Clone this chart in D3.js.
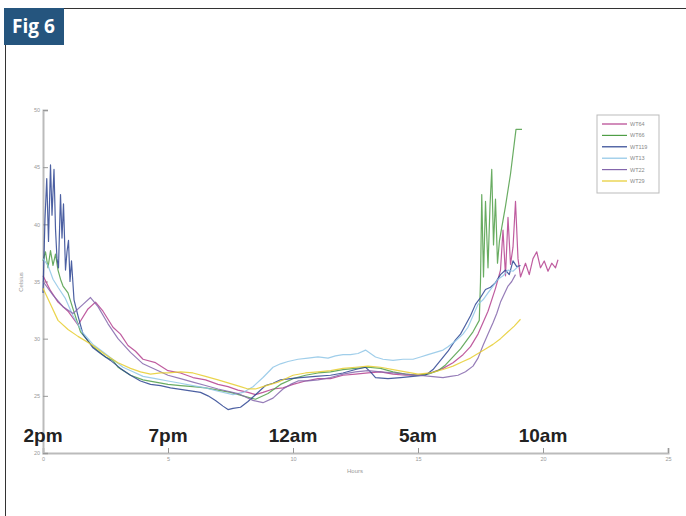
<!DOCTYPE html>
<html>
<head>
<meta charset="utf-8">
<script src="https://cdn.jsdelivr.net/npm/d3@7"></script>
<style>
  body { margin: 0; background: #fff; }
  svg { display: block; font-family: "Liberation Sans", Arial, sans-serif; }
</style>
</head>
<body>
<svg id="chart" width="686" height="516"></svg>
<script>
// series names / colours (legend order)
const names = ["WT64", "WT66", "WT119", "WT13", "WT22", "WT29"];
const colors = ["#b4408e", "#4f9e46", "#2d4492", "#8fc6e6", "#8466ac", "#e6cc2e"];

// time-of-day labels at each 5 hour tick
const xTicks = [0, 5, 10, 15, 20, 25];
const clockLabels = ["2pm", "7pm", "12am", "5am", "10am"];
const yTicks = [20, 25, 30, 35, 40, 45, 50];

// [hours, celsius]
const wt64 = [[0,35.5],[0.3,34.2],[0.6,33.2],[1.0,32.4],[1.4,31.2],[1.8,32.6],[2.1,33.2],[2.4,32.4],[2.8,31],[3.1,30.4],[3.4,29.4],[3.7,28.9],[4,28.2],[4.5,27.9],[5,27.2],[5.5,27.0],[6,26.6],[6.5,26.4],[7,26],[7.4,25.8],[7.8,25.5],[8.2,25.3],[8.5,25.1],[8.8,25.3],[9.2,25.6],[9.6,25.7],[10,26],[10.5,26.3],[11,26.5],[11.5,26.5],[12,26.8],[12.5,26.9],[13,27],[13.5,27.1],[14,26.9],[14.5,26.8],[15,26.8],[15.5,27],[16,27.4],[16.4,27.9],[16.8,28.6],[17.1,29.3],[17.4,30.4],[17.8,32.4],[18.1,34.4],[18.3,36],[18.4,39.5],[18.5,35.5],[18.6,40.6],[18.7,36.5],[18.8,38],[18.9,42],[19.0,37],[19.1,35.4],[19.3,36.6],[19.45,35.6],[19.6,37],[19.75,37.6],[19.9,36.2],[20.05,36.8],[20.2,35.9],[20.35,36.6],[20.5,36.2],[20.6,36.9]];
const wt66 = [[0,36.8],[0.1,37.6],[0.2,36.2],[0.3,37.7],[0.4,36.4],[0.5,37.4],[0.6,36],[0.7,35.2],[0.8,34.6],[1.0,34],[1.2,32.6],[1.5,30.6],[1.8,29.8],[2,29.3],[2.5,28.4],[2.8,28.1],[3,27.5],[3.5,26.8],[4,26.4],[4.5,26.2],[5,26],[5.5,25.9],[6,25.8],[6.5,25.7],[7,25.5],[7.5,25.3],[8,25],[8.5,24.7],[9,25.2],[9.5,26],[10,26.5],[10.5,26.8],[11,27],[11.5,27.1],[12,27.3],[12.5,27.4],[13,27.5],[13.5,27.4],[14,27.1],[14.5,26.9],[15,26.8],[15.4,26.9],[15.8,27.2],[16.1,27.7],[16.4,28.4],[16.7,29.1],[17,30],[17.2,30.6],[17.45,31.6],[17.5,35],[17.55,42.6],[17.62,35.4],[17.7,42],[17.8,36.2],[17.88,41.6],[17.95,44.8],[18.02,38.2],[18.1,42.2],[18.18,36.6],[18.26,38.6],[18.5,41.6],[18.7,44.4],[18.92,48.3],[19.16,48.3]];
const wt119 = [[0,34],[0.08,40.5],[0.15,44],[0.22,38.5],[0.3,45.2],[0.36,40.8],[0.44,44.8],[0.5,39.6],[0.56,37],[0.62,36.2],[0.7,42.6],[0.76,38.8],[0.82,41.8],[0.9,36],[0.96,37.6],[1.02,38.6],[1.08,35],[1.14,36.8],[1.24,33.4],[1.4,32],[1.6,30.4],[2,29.2],[2.3,28.7],[2.7,28.1],[3.1,27.4],[3.5,26.8],[3.9,26.3],[4.3,26],[4.7,25.9],[5.1,25.7],[5.7,25.5],[6.3,25.3],[6.6,25],[6.9,24.6],[7.2,24.1],[7.4,23.8],[7.6,23.9],[7.9,24],[8.2,24.5],[8.5,25.1],[8.9,25.9],[9.2,26.1],[9.5,26.4],[9.9,26.5],[10.3,26.6],[10.9,26.7],[11.5,26.8],[12,27],[12.5,27.3],[12.9,27.5],[13.1,27.1],[13.3,26.6],[13.8,26.5],[14.3,26.6],[14.8,26.7],[15.3,26.8],[15.6,27.3],[15.9,28.1],[16.2,28.9],[16.5,29.9],[16.7,30.4],[16.9,31.2],[17.1,32],[17.3,33],[17.5,33.6],[17.7,34.3],[17.9,34.5],[18.1,34.9],[18.3,35.6],[18.5,36],[18.65,35.6],[18.8,36.8],[18.95,36.3],[19.1,36.4]];
const wt13 = [[0,37],[0.2,36.4],[0.4,35.2],[0.6,34.5],[0.9,33.5],[1.2,32],[1.6,30.5],[2,29.5],[2.3,29],[2.6,28.5],[3.2,27.5],[3.6,27.1],[4,26.7],[4.5,26.5],[5,26.3],[5.5,26.1],[6,25.9],[6.5,25.7],[7,25.4],[7.6,25.1],[8,25.3],[8.4,25.8],[8.8,26.6],[9.2,27.5],[9.5,27.8],[9.8,28],[10.2,28.2],[10.6,28.3],[11,28.4],[11.4,28.3],[11.7,28.5],[12,28.6],[12.3,28.6],[12.6,28.7],[12.9,29],[13.1,28.7],[13.3,28.4],[13.6,28.2],[14,28.1],[14.4,28.2],[14.8,28.2],[15.1,28.4],[15.4,28.6],[15.7,28.8],[16,29],[16.2,29.3],[16.5,29.8],[16.8,30.4],[17,31],[17.2,32],[17.4,33],[17.6,33.4],[17.8,34],[18,34.6],[18.2,35.2],[18.4,35.5],[18.6,36],[18.8,35.9],[19,36.3]];
const wt22 = [[0,35],[0.4,33.8],[0.8,32.8],[1.2,32.2],[1.6,33],[1.9,33.6],[2.2,32.8],[2.6,31.3],[3.0,30],[3.5,28.8],[4,27.8],[4.5,27.3],[5,26.8],[5.5,26.5],[6,26.2],[6.5,25.9],[7,25.6],[7.4,25.4],[7.8,25.2],[8.1,24.9],[8.4,24.6],[8.8,24.4],[9.2,24.8],[9.6,25.6],[9.9,26],[10.2,26.3],[10.6,26.3],[11,26.4],[11.5,26.6],[12,26.9],[12.5,27.1],[13,27.2],[13.5,27.1],[14,27],[14.5,26.9],[15,26.8],[15.5,26.7],[16,26.6],[16.3,26.7],[16.6,26.8],[16.9,27.1],[17.2,27.6],[17.4,28.3],[17.6,29.4],[17.8,30.4],[18,31.4],[18.15,32.2],[18.3,33.2],[18.45,33.9],[18.6,34.6],[18.75,35],[18.9,35.6]];
const wt29 = [[0,34.4],[0.3,33],[0.6,31.6],[1.0,30.8],[1.4,30.2],[2,29.4],[2.5,28.6],[3,27.9],[3.5,27.4],[3.9,27.1],[4.3,26.9],[4.7,27],[5,27],[5.5,27.1],[6,27],[6.5,26.7],[7,26.4],[7.3,26.2],[7.6,26],[7.9,25.8],[8.2,25.6],[8.5,25.6],[8.8,25.8],[9.1,26],[9.4,26.2],[9.7,26.5],[10,26.8],[10.5,27],[11,27.1],[11.5,27.2],[12,27.4],[12.5,27.5],[13,27.6],[13.5,27.5],[14,27.3],[14.5,27.1],[15,26.9],[15.5,27],[16,27.3],[16.4,27.6],[16.8,28],[17.1,28.3],[17.4,28.7],[17.7,29.1],[18,29.5],[18.3,30],[18.6,30.6],[18.85,31.1],[19.1,31.7]];
const seriesData = [wt64, wt66, wt119, wt13, wt22, wt29];

const svg = d3.select("#chart");

// frame + badge
svg.append("line").attr("x1", 64).attr("x2", 686).attr("y1", 8.5).attr("y2", 8.5)
  .attr("stroke", "#333").attr("stroke-width", 1);
svg.append("line").attr("x1", 5.5).attr("x2", 5.5).attr("y1", 45).attr("y2", 516)
  .attr("stroke", "#333").attr("stroke-width", 1);
svg.append("rect").attr("x", 4).attr("y", 8).attr("width", 60).attr("height", 37)
  .attr("fill", "#25557e");
svg.append("text").attr("x", 12).attr("y", 33)
  .attr("fill", "#fff").attr("font-size", 19).attr("font-weight", "bold")
  .attr("font-family", "'Open Sans', sans-serif")
  .text("Fig 6");

// scales
const x = d3.scaleLinear().domain([0, 25]).range([43, 668]);
const y = d3.scaleLinear().domain([20, 50]).range([453, 110]);

// axes
const xAxis = svg.append("g").attr("transform", "translate(0,453)")
  .call(d3.axisBottom(x).tickValues(xTicks).tickSize(-5).tickPadding(4));
const yAxis = svg.append("g").attr("transform", "translate(43,0)")
  .call(d3.axisLeft(y).tickValues(yTicks).tickSize(-5).tickPadding(3));
[xAxis, yAxis].forEach(g => {
  g.select(".domain").attr("stroke", "#bbb").attr("stroke-width", 2);
  g.selectAll(".tick line").attr("stroke", "#999");
  g.selectAll(".tick text").attr("fill", "#999").attr("font-size", 5.5);
});

svg.append("text").attr("x", 355).attr("y", 473).attr("text-anchor", "middle")
  .attr("font-size", 6).attr("fill", "#999").text("Hours");
svg.append("text").attr("transform", "translate(23,282) rotate(-90)")
  .attr("text-anchor", "middle").attr("font-size", 6).attr("fill", "#999").text("Celsius");

// lines
const line = d3.line().x(d => x(d[0])).y(d => y(d[1]));
seriesData.forEach((s, i) => {
  svg.append("path").datum(s)
    .attr("fill", "none")
    .attr("stroke", colors[i])
    .attr("stroke-width", 1.2)
    .attr("stroke-opacity", 0.85)
    .attr("stroke-linejoin", "round")
    .attr("d", line);
});

// clock labels
svg.selectAll(".clock").data(clockLabels).enter().append("text")
  .attr("class", "clock")
  .attr("x", (d, i) => x(xTicks[i]))
  .attr("y", 442)
  .attr("text-anchor", "middle")
  .attr("font-size", 19).attr("font-weight", "bold").attr("fill", "#222")
  .text(d => d);

// legend
const lg = svg.append("g").attr("transform", "translate(597,115)");
lg.append("rect").attr("width", 62).attr("height", 78)
  .attr("fill", "#fff").attr("stroke", "#bbb");
names.forEach((n, i) => {
  const ly = 9 + i * 11.4;
  lg.append("line").attr("x1", 5).attr("x2", 30).attr("y1", ly).attr("y2", ly)
    .attr("stroke", colors[i]).attr("stroke-width", 1.2);
  lg.append("text").attr("x", 33).attr("y", ly + 2).attr("font-size", 5.5)
    .attr("fill", "#888").text(n);
});
</script>
</body>
</html>
